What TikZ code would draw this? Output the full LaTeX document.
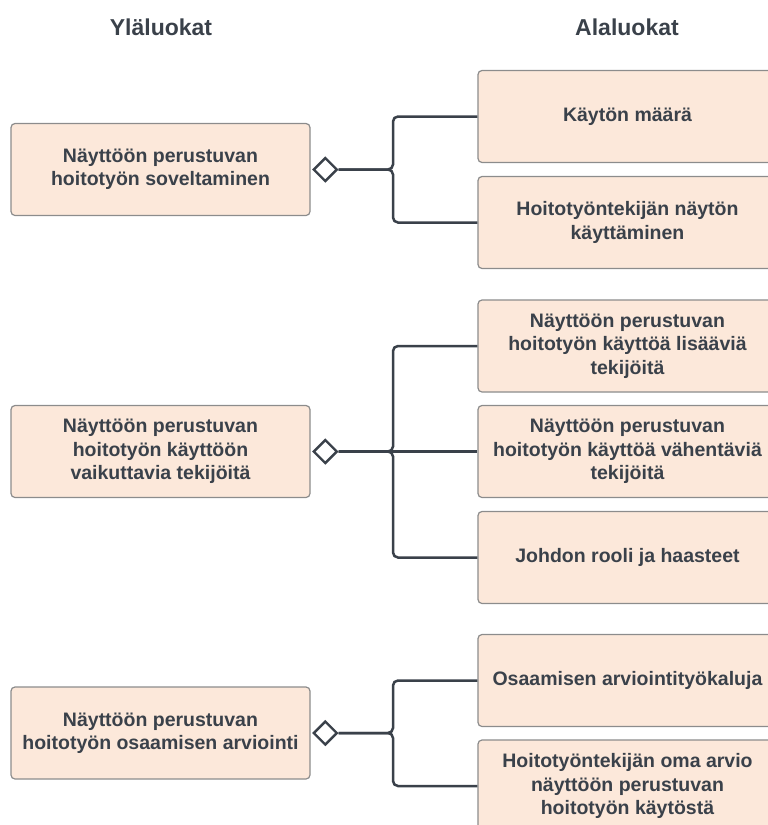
\documentclass[tikz,border=0pt]{standalone}
\usepackage{fontspec}
\setmainfont{Liberation Sans}
\usetikzlibrary{shapes.geometric}
\definecolor{txt}{HTML}{3A414A}
\definecolor{boxfill}{HTML}{FCE8DA}
\definecolor{boxline}{HTML}{8C8C8C}
\tikzset{
  catbox/.style={draw=boxline, line width=1.2pt, fill=boxfill, rounded corners=4pt,
    minimum width=299pt, minimum height=92pt, inner sep=0pt, align=center,
    text=txt, font=\bfseries\fontsize{19.5}{23.3}\selectfont},
  header/.style={text=txt, font=\bfseries\fontsize{23}{27}\selectfont, inner sep=0pt},
  agg/.style={diamond, draw=txt, fill=white, line width=2.4pt, minimum width=24pt,
    minimum height=24pt, inner sep=0pt, aspect=1},
  conn/.style={draw=txt, line width=2.5pt, rounded corners=5pt}
}
\begin{document}
\begin{tikzpicture}[x=1pt,y=-1pt]
\useasboundingbox (0,0) rectangle (768,825);
\begin{scope}
\clip (0,0) rectangle (768,825);
\node[header] (h1) at (161,27) {Yläluokat};
\node[header] (h2) at (627,27) {Alaluokat};

\node[catbox] (L1) at (160.5,169.5) {Näyttöön perustuvan\\hoitotyön soveltaminen};
\node[catbox] (L2) at (160.5,451.5) {Näyttöön perustuvan\\hoitotyön käyttöön\\vaikuttavia tekijöitä};
\node[catbox] (L3) at (160.5,733) {Näyttöön perustuvan\\hoitotyön osaamisen arviointi};

\node[catbox] (R1) at (627.5,116.5) {Käytön määrä};
\node[catbox] (R2) at (627.5,222.5) {Hoitotyöntekijän näytön\\käyttäminen};
\node[catbox] (R3) at (627.5,346) {Näyttöön perustuvan\\hoitotyön käyttöä lisääviä\\tekijöitä};
\node[catbox] (R4) at (627.5,451.5) {Näyttöön perustuvan\\hoitotyön käyttöä vähentäviä\\tekijöitä};
\node[catbox] (R5) at (627.5,557.5) {Johdon rooli ja haasteet};
\node[catbox] (R6) at (627.5,680.5) {Osaamisen arviointityökaluja};
\node[catbox] (R7) at (627.5,786) {Hoitotyöntekijän oma arvio\\näyttöön perustuvan\\hoitotyön käytöstä};

\node[agg, anchor=west] (D1) at ([xshift=1.5pt]L1.east) {};
\node[agg, anchor=west] (D2) at ([xshift=1.5pt]L2.east) {};
\node[agg, anchor=west] (D3) at ([xshift=1.5pt]L3.east) {};

\coordinate (J1) at (393,169.5);
\coordinate (J2) at (393,451.5);
\coordinate (J3) at (393,733);

\draw[conn] (D1.east) -- (J1) |- (R1.west);
\draw[conn] (D1.east) -- (J1) |- (R2.west);
\draw[conn] (D2.east) -- (J2) |- (R3.west);
\draw[conn] (D2.east) -- (R4.west);
\draw[conn] (D2.east) -- (J2) |- (R5.west);
\draw[conn] (D3.east) -- (J3) |- (R6.west);
\draw[conn] (D3.east) -- (J3) |- (R7.west);
\end{scope}
\end{tikzpicture}
\end{document}
